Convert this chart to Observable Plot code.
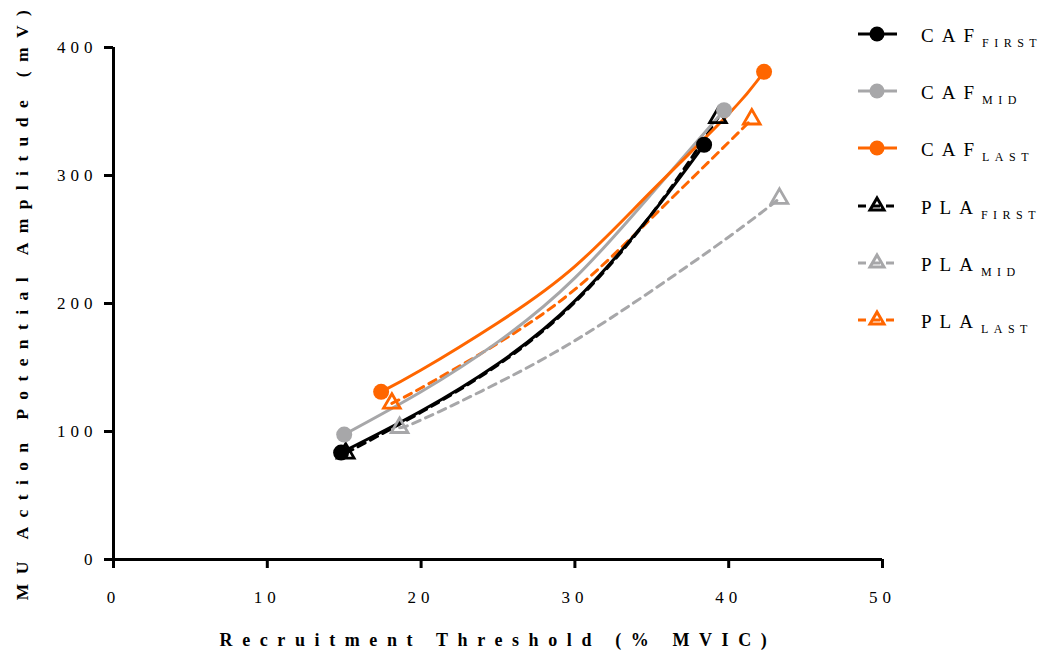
<!DOCTYPE html>
<html>
<head>
<meta charset="utf-8">
<script src="https://cdn.jsdelivr.net/npm/d3@7"></script>
<script src="https://cdn.jsdelivr.net/npm/@observablehq/plot@0.6"></script>
<style>
  body { margin: 0; background: white; }
  #wrap { position: relative; width: 1047px; height: 660px; }
  #legend { position: absolute; left: 0; top: 0; }
  g[aria-label="x-axis tick label"] text, g[aria-label="y-axis tick label"] text { letter-spacing: 5px; }
</style>
</head>
<body>
<div id="wrap"></div>
<script>
// Tick labels
const xTicks = [0, 10, 20, 30, 40, 50];
const yTicks = [0, 100, 200, 300, 400];

// Series (x = recruitment threshold %MVIC, y = MUAP amplitude mV)
const cafFirstX = [14.8, 20, 25, 30, 35, 38.4];
const cafFirstY = [83.5, 116, 153, 202, 270, 324];
const cafMidX   = [15.0, 20, 25, 30, 35, 39.7];
const cafMidY   = [97.6, 131, 170, 220, 286, 351];
const cafLastX  = [17.4, 20, 25, 30, 35, 40, 42.3];
const cafLastY  = [131, 148, 185, 229, 288, 348, 381];
const plaFirstX = [15.1, 20, 25, 30, 35, 39.3];
const plaFirstY = [83, 115, 152, 201, 270, 345];
const plaMidX   = [18.6, 20, 25, 30, 35, 40, 43.3];
const plaMidY   = [103, 109, 138, 171, 210, 252, 282];
const plaLastX  = [18.1, 20, 25, 30, 35, 40, 41.5];
const plaLastY  = [122, 134, 169, 211, 267, 326, 344];

const names = ["CAF", "CAF", "CAF", "PLA", "PLA", "PLA"];
const subs = ["FIRST", "MID", "LAST", "FIRST", "MID", "LAST"];
const colors = ["#000000", "#a7a7a9", "#ff6600", "#000000", "#a7a7a9", "#ff6600"];
const xs = [cafFirstX, cafMidX, cafLastX, plaFirstX, plaMidX, plaLastX];
const ys = [cafFirstY, cafMidY, cafLastY, plaFirstY, plaMidY, plaLastY];

const xLabel = "Recruitment Threshold (% MVIC)";
const yLabel = "MU Action Potential Amplitude (mV)";

const series = xs.map((X, s) => ({
  name: names[s] + "_" + subs[s],
  color: colors[s],
  dashed: names[s] === "PLA",
  rows: X.map((x, i) => ({x, y: ys[s][i], end: i === 0 || i === X.length - 1}))
}));

const drawOrder = [4, 5, 3, 0, 1, 2];
const lineMarks = [];
const dotMarks = [];
for (const s of drawOrder) {
  const S = series[s];
  lineMarks.push(Plot.line(S.rows, {
    x: "x", y: "y", stroke: S.color, strokeWidth: 3, curve: "natural",
    strokeDasharray: S.dashed ? "8,6" : null
  }));
}
for (const s of drawOrder) {
  const S = series[s];
  const ends = S.rows.filter(d => d.end);
  if (S.dashed) {
    dotMarks.push(Plot.dot(ends, {x: "x", y: "y", symbol: "triangle", r: 6.2, stroke: S.color, strokeWidth: 2.8, fill: "none"}));
  } else {
    dotMarks.push(Plot.dot(ends, {x: "x", y: "y", symbol: "circle", r: 8, fill: S.color, stroke: "none"}));
  }
}

const chart = Plot.plot({
  width: 1047,
  height: 660,
  marginLeft: 113,
  marginRight: 165,
  marginTop: 47,
  marginBottom: 101,
  x: {domain: [0, 50]},
  y: {domain: [0, 400]},
  style: {fontFamily: "'Liberation Serif', 'DejaVu Serif', serif", fontSize: "17px", background: "white", color: "black"},
  marks: [
    Plot.axisX({ticks: xTicks, tickSize: 9, tickPadding: 22, label: null, strokeWidth: 3, tickFormat: d3.format("d"), fontSize: 17}),
    Plot.axisY({ticks: yTicks, tickSize: 9, tickPadding: 7, label: null, strokeWidth: 3, tickFormat: d3.format("d"), fontSize: 17}),
    Plot.ruleX([0], {strokeWidth: 3}),
    Plot.ruleY([0], {strokeWidth: 3}),
    ...lineMarks,
    ...dotMarks,
    Plot.text([yLabel], {frameAnchor: "left", textAnchor: "middle", dx: -91, dy: -3, rotate: -90, fontWeight: "bold", fontSize: 17.5, text: d => d}),
    Plot.text([xLabel], {frameAnchor: "bottom", textAnchor: "middle", dy: 86, fontWeight: "bold", fontSize: 18, text: d => d})
  ]
});
d3.select(chart).selectAll("text")
  .filter(function () { return this.textContent === xLabel || this.textContent === yLabel; })
  .style("letter-spacing", function () { return this.textContent === xLabel ? "9.6px" : "9.4px"; });
document.getElementById("wrap").appendChild(chart);

// Legend
const legendTop = [34, 91, 148, 206, 263, 320];
const leg = d3.select("#wrap").append("svg")
  .attr("id", "legend").attr("width", 1047).attr("height", 660)
  .style("font-family", "'Liberation Serif', 'DejaVu Serif', serif");
series.forEach((S, i) => {
  const cy = legendTop[i];
  const g = leg.append("g");
  g.append("line").attr("x1", 858).attr("x2", 897).attr("y1", cy).attr("y2", cy)
    .attr("stroke", S.color).attr("stroke-width", 3)
    .attr("stroke-dasharray", S.dashed ? "8,6" : null);
  if (S.dashed) {
    const r = 5.2;
    const sym = d3.symbol(d3.symbolTriangle, (r * r * Math.PI));
    g.append("path").attr("d", sym()).attr("transform", `translate(877,${cy})`)
      .attr("fill", "none").attr("stroke", S.color).attr("stroke-width", 3);
  } else {
    g.append("circle").attr("cx", 877).attr("cy", cy).attr("r", 7.5).attr("fill", S.color);
  }
  const t = g.append("text").attr("x", 921).attr("y", cy + 8).attr("fill", "black");
  t.append("tspan").text(names[i]).style("font-size", "19px").style("letter-spacing", "8px");
  t.append("tspan").text(subs[i]).attr("dy", 5).style("font-size", "12px").style("letter-spacing", "5.5px");
});
</script>
</body>
</html>
